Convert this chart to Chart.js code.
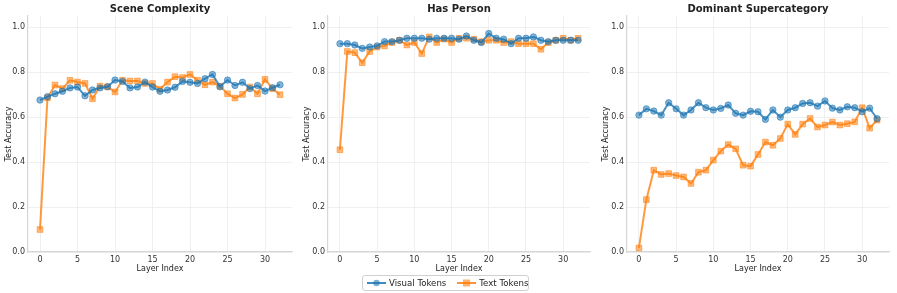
<!DOCTYPE html>
<html>
<head>
<meta charset="utf-8">
<script src="https://cdn.jsdelivr.net/npm/chart.js@4"></script>
<style>
  body { margin: 0; background: #fff; font-family: "DejaVu Sans", sans-serif; }
  #wrap { position: relative; width: 897px; height: 293px; }
  .panel { position: absolute; top: 0; width: 297px; height: 293px; }
  #legend {
    position: absolute; left: 362px; top: 275px; width: 167px; height: 16px;
    border: 1px solid #d0d0d0; border-radius: 3px; background: #fff; white-space: nowrap;
    display: flex; align-items: center; font-size: 8.6px; color: #222; box-sizing: border-box;
  }
  #legend span { display: inline-flex; align-items: center; white-space: nowrap; }
  #legend svg { margin: 0 3px 0 4px; flex: none; }
</style>
</head>
<body>
<div id="wrap">
  <div class="panel" style="left:0px"><canvas id="c0"></canvas></div>
  <div class="panel" style="left:298px"><canvas id="c1"></canvas></div>
  <div class="panel" style="left:597px"><canvas id="c2"></canvas></div>
  <div id="legend">
    <span><svg width="19" height="10"><line x1="0" y1="5" x2="19" y2="5" stroke="rgba(31,119,180,0.85)" stroke-width="2"/><circle cx="9.5" cy="5" r="3.2" fill="rgba(31,119,180,0.6)"/></svg>Visual Tokens</span>
    <span style="margin-left:7px"><svg width="19" height="10"><line x1="0" y1="5" x2="19" y2="5" stroke="rgba(255,127,14,0.85)" stroke-width="2"/><rect x="6" y="1.5" width="7" height="7" fill="rgba(255,127,14,0.6)"/></svg>Text Tokens</span>
  </div>
</div>
<script>
const layers = Array.from({ length: 33 }, (_, i) => i);
const xTicks = [0, 5, 10, 15, 20, 25, 30];
const yTicks = [0, 0.2, 0.4, 0.6, 0.8, 1.0];
const titles = ["Scene Complexity", "Has Person", "Dominant Supercategory"];

const sceneVisual = [0.676, 0.691, 0.704, 0.715, 0.730, 0.734, 0.695, 0.721, 0.730, 0.735, 0.765,
  0.759, 0.730, 0.734, 0.756, 0.734, 0.715, 0.721, 0.733, 0.759, 0.755, 0.750, 0.771, 0.790,
  0.735, 0.765, 0.741, 0.755, 0.727, 0.741, 0.716, 0.731, 0.744];
const sceneText = [0.100, 0.686, 0.743, 0.727, 0.764, 0.756, 0.750, 0.682, 0.738, 0.735, 0.712,
  0.764, 0.761, 0.761, 0.750, 0.750, 0.724, 0.756, 0.780, 0.776, 0.790, 0.764, 0.744, 0.756,
  0.738, 0.704, 0.685, 0.701, 0.734, 0.704, 0.768, 0.727, 0.700];

const personVisual = [0.927, 0.927, 0.921, 0.906, 0.912, 0.917, 0.936, 0.936, 0.942, 0.951, 0.951,
  0.951, 0.947, 0.951, 0.951, 0.951, 0.947, 0.961, 0.942, 0.932, 0.972, 0.951, 0.947, 0.927,
  0.951, 0.951, 0.957, 0.942, 0.936, 0.942, 0.942, 0.942, 0.942];
const personText = [0.455, 0.892, 0.887, 0.842, 0.892, 0.912, 0.917, 0.932, 0.942, 0.921, 0.932,
  0.883, 0.957, 0.932, 0.947, 0.932, 0.951, 0.951, 0.947, 0.936, 0.942, 0.942, 0.932, 0.936,
  0.927, 0.927, 0.927, 0.902, 0.932, 0.942, 0.951, 0.942, 0.951];

const superVisual = [0.609, 0.637, 0.627, 0.609, 0.664, 0.637, 0.609, 0.632, 0.664, 0.642, 0.632,
  0.639, 0.654, 0.617, 0.609, 0.626, 0.624, 0.590, 0.632, 0.600, 0.632, 0.642, 0.661, 0.664,
  0.649, 0.672, 0.640, 0.632, 0.646, 0.642, 0.624, 0.640, 0.593];
const superText = [0.018, 0.233, 0.364, 0.345, 0.349, 0.340, 0.334, 0.305, 0.355, 0.364, 0.409,
  0.449, 0.478, 0.459, 0.386, 0.382, 0.434, 0.489, 0.475, 0.505, 0.569, 0.523, 0.569, 0.594,
  0.556, 0.565, 0.578, 0.565, 0.571, 0.579, 0.642, 0.551, 0.587];

const panels = [
  [sceneVisual, sceneText],
  [personVisual, personText],
  [superVisual, superText],
];
const yAxisWidths = [28, 30, 30];

const BLUE_LINE = "rgba(31,119,180,0.8)";
const BLUE_PT = "rgba(31,119,180,0.55)";
const ORANGE_LINE = "rgba(255,127,14,0.8)";
const ORANGE_PT = "rgba(255,127,14,0.55)";
const TICK_FONT = { family: "DejaVu Sans", size: 8 };
const LABEL_FONT = { family: "DejaVu Sans", size: 8 };

function makeChart(idx) {
   const [visual, text] = panels[idx];
   const ctx = document.getElementById(`c${idx}`).getContext("2d");
   return new Chart(ctx, {
      type: "line",
      data: {
         datasets: [
            {
               label: "Visual Tokens",
               data: layers.map((l, i) => ({ x: l, y: visual[i] })),
               borderColor: BLUE_LINE,
               borderWidth: 2,
               pointStyle: "circle",
               pointRadius: 3.2,
               pointBackgroundColor: BLUE_PT,
               pointBorderColor: BLUE_PT,
               pointBorderWidth: 1,
               tension: 0,
            },
            {
               label: "Text Tokens",
               data: layers.map((l, i) => ({ x: l, y: text[i] })),
               borderColor: ORANGE_LINE,
               borderWidth: 2,
               pointStyle: "rect",
               pointRadius: 4,
               pointBackgroundColor: ORANGE_PT,
               pointBorderColor: ORANGE_PT,
               pointBorderWidth: 1,
               tension: 0,
            },
         ],
      },
      options: {
         responsive: false,
         animation: false,
         devicePixelRatio: 1,
         layout: { padding: { top: 0, right: 2, bottom: 19, left: 0 } },
         plugins: {
            legend: { display: false },
            tooltip: { enabled: false },
            title: {
               display: true,
               text: titles[idx],
               fullSize: false,
               color: "#222",
               font: { family: "DejaVu Sans", size: 10, weight: "bold" },
               padding: { top: 3, bottom: 1 },
            },
         },
         scales: {
            x: {
               type: "linear",
               min: -1.6,
               max: 33.6,
               afterBuildTicks: s => { s.ticks = xTicks.map(v => ({ value: v })); },
               afterFit: s => { s.height = 22; },
               ticks: { color: "#333", font: TICK_FONT, padding: 3 },
               grid: { color: "#ececec", lineWidth: 0.8, drawTicks: false },
               border: { color: "#d6d6d6", width: 1.2 },
               title: { display: true, text: "Layer Index", color: "#222", font: LABEL_FONT, padding: { top: 0, bottom: 0 } },
            },
            y: {
               min: 0,
               max: 1.05,
               afterBuildTicks: s => { s.ticks = yTicks.map(v => ({ value: v })); },
               afterFit: s => { s.width = yAxisWidths[idx]; },
               ticks: { color: "#333", font: TICK_FONT, padding: 3, callback: v => v.toFixed(1) },
               grid: { color: "#ececec", lineWidth: 0.8, drawTicks: false },
               border: { color: "#d6d6d6", width: 1.2 },
               title: { display: true, text: "Test Accuracy", color: "#222", font: LABEL_FONT, padding: { top: 4, bottom: 0 } },
            },
         },
      },
   });
}

document.querySelectorAll("canvas").forEach(c => { c.width = 297; c.height = 293; });
const charts = [0, 1, 2].map(makeChart);
</script>
</body>
</html>
